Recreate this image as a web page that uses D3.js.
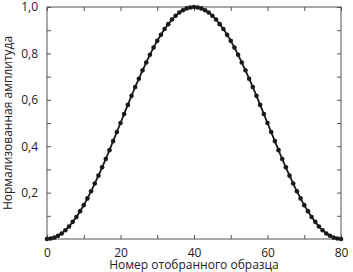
<!DOCTYPE html>
<html>
<head>
<meta charset="utf-8">
<script src="https://cdnjs.cloudflare.com/ajax/libs/d3/7.8.5/d3.min.js"></script>
<style>
  body { margin: 0; background: #fff; }
  text { font-family: "Open Sans", sans-serif; fill: #222; }
</style>
</head>
<body>
<script>
// sample numbers 0..80 and the normalised amplitude
var samples = d3.range(0, 81);
var halfAmp = [0, 0.002, 0.006, 0.014, 0.024, 0.038, 0.054, 0.074, 0.095, 0.120,
               0.146, 0.175, 0.206, 0.239, 0.273, 0.309, 0.345, 0.383, 0.422, 0.461,
               0.500, 0.539, 0.578, 0.617, 0.655, 0.691, 0.727, 0.761, 0.794, 0.825,
               0.854, 0.880, 0.905, 0.926, 0.946, 0.962, 0.976, 0.986, 0.994, 0.998, 1.0];
var amplitude = halfAmp.concat(halfAmp.slice(0, 40).reverse());

var xTicks = [0, 20, 40, 60, 80],
    xMinor = [10, 30, 50, 70],
    yTicks = [0.2, 0.4, 0.6, 0.8, 1.0],
    yMinor = [0.1, 0.3, 0.5, 0.7, 0.9];

var xLabel = "Номер отобранного образца",
    yLabel = "Нормализованная амплитуда";

var W = 353, H = 272,
    margin = {top: 7, right: 12, bottom: 33, left: 47},
    width = W - margin.left - margin.right,
    height = H - margin.top - margin.bottom;

var fmt = function(d) { return d3.format(".1f")(d).replace(".", ","); };

var svg = d3.select("body").append("svg")
    .attr("width", W).attr("height", H);

var g = svg.append("g")
    .attr("transform", "translate(" + margin.left + "," + margin.top + ")");

var x = d3.scaleLinear().domain([0, 80]).range([0, width]);
var y = d3.scaleLinear().domain([0, 1]).range([height, 0]);

function styleAxis(sel) {
    sel.select(".domain").remove();
    sel.selectAll(".tick line").attr("stroke", "#555");
    sel.selectAll(".tick text").style("font-size", "12px").attr("fill", "#222");
}

// bottom axis with labels
g.append("g")
    .attr("transform", "translate(0," + height + ")")
    .call(d3.axisBottom(x).tickValues(xTicks.concat(xMinor)).tickSizeInner(-4).tickPadding(9)
        .tickFormat(function(d) { return xTicks.indexOf(d) >= 0 ? d : ""; }))
    .call(styleAxis);

// top axis ticks
g.append("g")
    .call(d3.axisTop(x).tickValues(xTicks.concat(xMinor)).tickSizeInner(-4).tickFormat(""))
    .call(styleAxis);

// left axis with labels
g.append("g")
    .call(d3.axisLeft(y).tickValues(yTicks.concat(yMinor)).tickSizeInner(-4).tickPadding(9)
        .tickFormat(function(d) { return yTicks.indexOf(d) >= 0 ? fmt(d) : ""; }))
    .call(styleAxis);

// right axis ticks
g.append("g")
    .attr("transform", "translate(" + width + ",0)")
    .call(d3.axisRight(y).tickValues(yTicks.concat(yMinor)).tickSizeInner(-4).tickFormat(""))
    .call(styleAxis);

// frame
g.append("rect")
    .attr("width", width).attr("height", height)
    .attr("fill", "none").attr("stroke", "#555").attr("stroke-width", 1);

var line = d3.line()
    .x(function(d, i) { return x(samples[i]); })
    .y(function(d) { return y(d); })
    .curve(d3.curveMonotoneX);

g.append("path")
    .datum(amplitude)
    .attr("d", line)
    .attr("fill", "none")
    .attr("stroke", "#1a1a1a")
    .attr("stroke-width", 1.8);

g.selectAll("circle.pt")
    .data(amplitude)
    .enter().append("circle")
    .attr("class", "pt")
    .attr("cx", function(d, i) { return x(samples[i]); })
    .attr("cy", function(d) { return y(d); })
    .attr("r", 2.3)
    .attr("fill", "#1a1a1a");

svg.append("text")
    .attr("x", margin.left + width / 2)
    .attr("y", H - 3)
    .attr("text-anchor", "middle")
    .style("font-size", "12px")
    .text(xLabel);

svg.append("text")
    .attr("transform", "translate(12," + (margin.top + height / 2) + ") rotate(-90)")
    .attr("text-anchor", "middle")
    .style("font-size", "12px")
    .text(yLabel);
</script>
</body>
</html>
